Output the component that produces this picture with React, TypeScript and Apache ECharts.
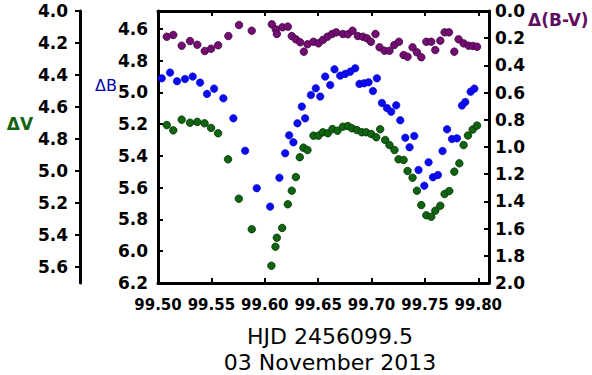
import React, { useEffect, useRef } from 'react';
import * as echarts from 'echarts';

// HJD - 2456000 (x), colour index Δ(B-V)
const hjdBV = [99.5082, 99.5143, 99.5222, 99.5300, 99.5368, 99.5438, 99.5497, 99.5563, 99.5659, 99.5759, 99.5878, 99.6066, 99.6103, 99.6113, 99.6165, 99.6216, 99.6253, 99.6291, 99.6331, 99.6366, 99.6400, 99.6456, 99.6503, 99.6544, 99.6587, 99.6631, 99.6669, 99.6732, 99.6778, 99.6822, 99.6872, 99.6919, 99.6957, 99.6994, 99.7037, 99.7075, 99.7122, 99.7168, 99.7213, 99.7257, 99.7300, 99.7337, 99.7384, 99.7425, 99.7466, 99.7513, 99.7559, 99.7597, 99.7644, 99.7684, 99.7725, 99.7775, 99.7815, 99.7862, 99.7909, 99.7950, 99.7988];
const deltaBV = [0.189, 0.176, 0.255, 0.221, 0.248, 0.294, 0.277, 0.252, 0.184, 0.103, 0.145, 0.098, 0.135, 0.169, 0.120, 0.115, 0.184, 0.208, 0.230, 0.299, 0.245, 0.226, 0.238, 0.213, 0.189, 0.169, 0.157, 0.169, 0.171, 0.145, 0.184, 0.189, 0.201, 0.226, 0.169, 0.267, 0.292, 0.292, 0.250, 0.226, 0.324, 0.336, 0.267, 0.304, 0.340, 0.226, 0.226, 0.287, 0.218, 0.157, 0.157, 0.299, 0.208, 0.238, 0.255, 0.257, 0.263];

const hjdB = [99.5035, 99.5113, 99.5178, 99.5253, 99.5325, 99.5394, 99.5459, 99.5525, 99.5612, 99.5706, 99.5816, 99.5925, 99.6050, 99.6137, 99.6191, 99.6228, 99.6268, 99.6306, 99.6347, 99.6378, 99.6432, 99.6478, 99.6519, 99.6566, 99.6613, 99.6653, 99.6706, 99.6753, 99.6800, 99.6847, 99.6887, 99.6931, 99.6972, 99.7013, 99.7050, 99.7097, 99.7144, 99.7184, 99.7231, 99.7269, 99.7316, 99.7356, 99.7400, 99.7440, 99.7494, 99.7534, 99.7575, 99.7622, 99.7665, 99.7707, 99.7753, 99.7800, 99.7847, 99.7878, 99.7928, 99.7963];
const deltaB = [4.911, 4.875, 4.929, 4.915, 4.900, 4.938, 5.009, 4.976, 5.037, 5.163, 5.367, 5.603, 5.719, 5.537, 5.383, 5.270, 5.314, 5.194, 5.089, 5.163, 5.016, 4.974, 5.026, 4.900, 4.953, 4.854, 4.894, 4.883, 4.869, 4.848, 4.946, 4.942, 4.936, 4.991, 4.911, 5.066, 5.098, 5.121, 5.081, 5.175, 5.285, 5.345, 5.274, 5.488, 5.587, 5.440, 5.534, 5.520, 5.369, 5.232, 5.293, 5.289, 5.082, 5.060, 4.995, 4.976];

const hjdV = [99.5082, 99.5143, 99.5222, 99.5300, 99.5368, 99.5436, 99.5497, 99.5563, 99.5656, 99.5757, 99.5878, 99.6062, 99.6100, 99.6113, 99.6163, 99.6216, 99.6253, 99.6291, 99.6328, 99.6362, 99.6400, 99.6456, 99.6503, 99.6544, 99.6591, 99.6634, 99.6681, 99.6732, 99.6778, 99.6816, 99.6863, 99.6909, 99.6950, 99.6997, 99.7044, 99.7081, 99.7128, 99.7168, 99.7215, 99.7253, 99.7300, 99.7337, 99.7384, 99.7425, 99.7466, 99.7513, 99.7559, 99.7597, 99.7644, 99.7684, 99.7728, 99.7775, 99.7822, 99.7862, 99.7903, 99.7947, 99.7988];
const deltaV = [4.713, 4.746, 4.679, 4.698, 4.693, 4.702, 4.731, 4.764, 4.927, 5.173, 5.364, 5.592, 5.473, 5.417, 5.356, 5.208, 5.123, 5.038, 4.914, 4.854, 4.869, 4.779, 4.779, 4.758, 4.764, 4.738, 4.748, 4.723, 4.719, 4.733, 4.744, 4.758, 4.758, 4.769, 4.789, 4.739, 4.806, 4.838, 4.869, 4.927, 4.931, 5.000, 5.042, 5.123, 5.213, 5.277, 5.286, 5.248, 5.217, 5.144, 5.125, 5.004, 4.952, 4.838, 4.778, 4.741, 4.716];

const xTicks = [99.5, 99.55, 99.6, 99.65, 99.7, 99.75, 99.8];
const vTicks = [4.0, 4.2, 4.4, 4.6, 4.8, 5.0, 5.2, 5.4, 5.6];
const bTicks = [4.6, 4.8, 5.0, 5.2, 5.4, 5.6, 5.8, 6.0, 6.2];
const bvTicks = [0.0, 0.2, 0.4, 0.6, 0.8, 1.0, 1.2, 1.4, 1.6, 1.8, 2.0];

const titleLines = ['HJD 2456099.5', '03 November 2013'];

const FONT = '"DejaVu Sans", "Liberation Sans", Arial, sans-serif';
const GREEN = '#0f650f';
const BLUE = '#0a0af0';
const PURPLE = '#740c74';

const zip = (xs: number[], ys: number[]) => xs.map((x, i) => [x, ys[i]]);

export default function App() {
  const ref = useRef<HTMLDivElement>(null);
  useEffect(() => {
    if (!ref.current) return;
    const chart = echarts.init(ref.current, null, { renderer: 'svg' });
    const axisLine = { show: true, onZero: false, lineStyle: { color: '#000', width: 3 } };
    const yLabel = (vals: number[], margin: number) => ({
      customValues: vals,
      formatter: (v: number) => v.toFixed(1),
      fontFamily: FONT,
      fontWeight: 'bold' as const,
      fontSize: 17,
      color: '#000',
      margin,
    });
    chart.setOption({
      animation: false,
      grid: { left: 158, top: 11, width: 331, height: 272, containLabel: false },
      xAxis: [
        {
          type: 'value',
          position: 'bottom',
          min: 99.5,
          max: 99.81,
          axisLine,
          axisTick: { show: true, inside: true, length: 5, customValues: xTicks, lineStyle: { color: '#000', width: 2 } },
          axisLabel: {
            customValues: xTicks,
            formatter: (v: number) => v.toFixed(2),
            fontFamily: FONT,
            fontWeight: 'bold',
            fontSize: 15,
            color: '#000',
            margin: 14,
          },
          splitLine: { show: false },
        },
        {
          type: 'value',
          position: 'top',
          min: 99.5,
          max: 99.81,
          axisLine,
          axisTick: { show: true, inside: true, length: 5, customValues: xTicks, lineStyle: { color: '#000', width: 2 } },
          axisLabel: { show: false },
          splitLine: { show: false },
        },
      ],
      yAxis: [
        {
          type: 'value',
          position: 'left',
          offset: 78,
          inverse: true,
          min: 4.0,
          max: 5.7,
          axisLine,
          axisTick: { show: true, inside: false, length: 5, customValues: vTicks, lineStyle: { color: '#000', width: 2 } },
          axisLabel: yLabel(vTicks, 12),
          splitLine: { show: false },
        },
        {
          type: 'value',
          position: 'left',
          offset: 0,
          inverse: true,
          min: 4.487,
          max: 6.2,
          axisLine,
          axisTick: { show: true, inside: true, length: 5, customValues: bTicks, lineStyle: { color: '#000', width: 2 } },
          axisLabel: yLabel(bTicks, 10),
          splitLine: { show: false },
        },
        {
          type: 'value',
          position: 'right',
          inverse: true,
          min: 0,
          max: 2.0,
          axisLine,
          axisTick: { show: true, inside: true, length: 5, customValues: bvTicks, lineStyle: { color: '#000', width: 2 } },
          axisLabel: yLabel(bvTicks, 6),
          splitLine: { show: false },
        },
      ],
      series: [
        {
          name: 'Δ(B-V)',
          type: 'scatter',
          xAxisIndex: 0,
          yAxisIndex: 2,
          symbol: 'circle',
          symbolSize: 7.5,
          itemStyle: { color: PURPLE, borderColor: '#3a053a', borderWidth: 0.8, opacity: 1 },
          data: zip(hjdBV, deltaBV),
        },
        {
          name: 'ΔB',
          type: 'scatter',
          xAxisIndex: 0,
          yAxisIndex: 1,
          symbol: 'circle',
          symbolSize: 7.5,
          itemStyle: { color: BLUE, borderColor: '#0606c0', borderWidth: 0.6, opacity: 1 },
          data: zip(hjdB, deltaB),
        },
        {
          name: 'ΔV',
          type: 'scatter',
          xAxisIndex: 0,
          yAxisIndex: 0,
          symbol: 'circle',
          symbolSize: 7.5,
          itemStyle: { color: GREEN, borderColor: '#043004', borderWidth: 0.8, opacity: 1 },
          data: zip(hjdV, deltaV),
        },
      ],
      graphic: [
        {
          type: 'text',
          x: 20,
          y: 124,
          style: { text: 'ΔV', font: `bold 17px ${FONT}`, fill: GREEN, align: 'center', verticalAlign: 'middle' },
        },
        {
          type: 'text',
          x: 106,
          y: 85,
          style: { text: 'ΔB', font: `16px ${FONT}`, fill: '#0000b0', align: 'center', verticalAlign: 'middle' },
        },
        {
          type: 'text',
          x: 528,
          y: 20,
          style: { text: 'Δ(B-V)', font: `bold 17px ${FONT}`, fill: '#5e0f62', align: 'left', verticalAlign: 'middle' },
        },
        {
          type: 'text',
          x: 330,
          y: 336,
          style: { text: titleLines[0], font: `22px ${FONT}`, fill: '#000', align: 'center', verticalAlign: 'middle' },
        },
        {
          type: 'text',
          x: 330,
          y: 362,
          style: { text: titleLines[1], font: `22px ${FONT}`, fill: '#000', align: 'center', verticalAlign: 'middle' },
        },
      ],
    });
    return () => chart.dispose();
  }, []);
  return (
    <div
      ref={ref}
      style={{ position: 'fixed', left: 0, top: 0, width: 592, height: 375, background: '#fff' }}
    />
  );
}
